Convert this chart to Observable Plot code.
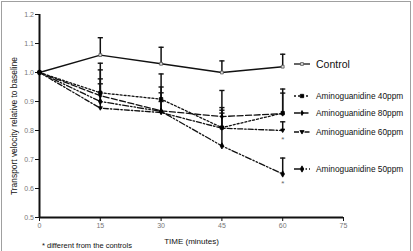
<!DOCTYPE html>
<html><head><meta charset="utf-8">
<script src="https://cdn.jsdelivr.net/npm/d3@7"></script>
<script src="https://cdn.jsdelivr.net/npm/@observablehq/plot@0.6"></script>
<style>
body{margin:0;background:#fff;font-family:"Liberation Sans",Arial,sans-serif;}
#wrap{position:relative;width:413px;height:251px;overflow:hidden;background:#fff;}
#frame{position:absolute;left:1px;top:1px;width:410px;height:250px;border:1px solid #a0a0a0;border-bottom:none;box-sizing:border-box;pointer-events:none;}
#chart{position:absolute;left:0;top:0;}
.leg{position:absolute;left:292px;display:flex;align-items:center;white-space:nowrap;color:#111;}
.leg svg{margin-right:4px;overflow:visible;}
#note{position:absolute;left:42px;top:241px;font-size:7.5px;color:#111;}
</style>
</head><body>
<div id="wrap"><div id="chart"></div><div id="legend"></div><div id="note">* different from the controls</div><div id="frame"></div></div>
<script>
const times = [0, 15, 30, 45, 60];
const seriesNames = ["Control", "Aminoguanidine 40ppm", "Aminoguanidine 80ppm", "Aminoguanidine 60ppm", "Aminoguanidine 50ppm"];
const control = [1.0, 1.06, 1.03, 1.0, 1.02];
const controlTop = [null, 1.12, 1.087, 1.04, 1.063];
const ag40 = [1.0, 0.93, 0.908, 0.81, 0.86];
const ag40Top = [null, 1.032, 0.995, 0.879, 0.943];
const ag80 = [1.0, 0.92, 0.868, 0.848, 0.858];
const ag80Top = [null, 1.009, 0.95, 0.87, 0.929];
const ag60 = [1.0, 0.877, 0.862, 0.808, 0.80];
const ag60Top = [null, 0.961, 0.9, 0.86, 0.83];
const ag50 = [1.0, 0.90, 0.866, 0.747, 0.65];
const ag50Top = [null, 0.978, 0.93, 0.938, 0.705];
const significant50 = [false, false, false, false, true];
const significant60 = [false, false, false, false, true];
const yTicks = [0.5, 0.6, 0.7, 0.8, 0.9, 1.0, 1.1, 1.2];
const xTicks = [0, 15, 30, 45, 60, 75];

const triDown = {draw(ctx, size){const s = Math.sqrt(size) * 0.62; ctx.moveTo(-s, -s * 0.7); ctx.lineTo(s, -s * 0.7); ctx.lineTo(0, s * 1.0); ctx.closePath();}};
const capSym = {draw(ctx){ctx.moveTo(-2.6, 0); ctx.lineTo(2.6, 0);}};

const defs = [
  {name: seriesNames[0], vals: control, tops: controlTop, dash: null, symbol: "square", fill: "#ddd", r: 1.6, sig: null},
  {name: seriesNames[1], vals: ag40, tops: ag40Top, dash: "2,2", symbol: "square", fill: "#000", r: 1.9, sig: null},
  {name: seriesNames[2], vals: ag80, tops: ag80Top, dash: "6,2.5", symbol: "diamond", fill: "#000", r: 1.5, sig: null},
  {name: seriesNames[3], vals: ag60, tops: ag60Top, dash: "5,2,1.5,2", symbol: triDown, fill: "#000", r: 1.9, sig: significant60},
  {name: seriesNames[4], vals: ag50, tops: ag50Top, dash: "6,2,1.5,2,1.5,2", symbol: "diamond", fill: "#000", r: 1.9, sig: significant50}
];

const marks = [];
for (const d of defs) {
  const rows = times.map((t, i) => ({time: t, value: d.vals[i], top: d.tops[i]}));
  const errRows = rows.filter(r => r.top != null);
  marks.push(Plot.ruleX(errRows, {x: "time", y1: "value", y2: "top", stroke: "#111", strokeWidth: 1.5}));
  marks.push(Plot.dot(errRows, {x: "time", y: "top", symbol: capSym, stroke: "#111", fill: "none", strokeWidth: 1.4}));
}
for (const d of defs) {
  const rows = times.map((t, i) => ({time: t, value: d.vals[i], sig: d.sig ? d.sig[i] : false}));
  marks.push(Plot.line(rows, {x: "time", y: "value", stroke: "#111", strokeWidth: d.dash ? 1.3 : 1.4, strokeDasharray: d.dash}));
  marks.push(Plot.dot(rows, {x: "time", y: "value", symbol: d.symbol, r: d.r, fill: d.fill, stroke: d.fill === "#000" ? "#000" : "#555", strokeWidth: 0.8}));
  marks.push(Plot.text(rows.filter(r => r.sig), {x: "time", y: "value", text: () => "*", dy: 9, fontSize: 8, fill: "#666"}));
}

const chart = Plot.plot({
  width: 413, height: 251,
  marginLeft: 39, marginRight: 70, marginTop: 14, marginBottom: 34,
  style: {fontFamily: "'Liberation Sans', Arial, sans-serif", background: "transparent", overflow: "visible"},
  x: {domain: [0, 75]},
  y: {domain: [0.5, 1.2]},
  marks: [
    Plot.axisY({ticks: yTicks, tickFormat: d => d.toFixed(1), tickSize: 4, stroke: "#111", fill: "#777", fontSize: 7, tickPadding: 1.5,
      label: "Transport velocity relative to baseline", labelAnchor: "center", labelArrow: "none", labelOffset: 28}),
    Plot.axisX({ticks: xTicks, tickSize: 4, stroke: "#111", fill: "#777", fontSize: 7, tickPadding: 1.5,
      label: "TIME (minutes)", labelAnchor: "center", labelArrow: "none", labelOffset: 26}),
    Plot.ruleX([0], {stroke: "#111", strokeWidth: 2}),
    Plot.ruleY([0.5], {stroke: "#111", strokeWidth: 2}),
    ...marks
  ]
});
chart.querySelectorAll("g[aria-label='y-axis label'] text").forEach(t => { t.setAttribute("fill", "#111"); t.style.fontSize = "8.4px"; t.setAttribute("dx", "-10"); });
chart.querySelectorAll("g[aria-label='x-axis label'] text").forEach(t => { t.setAttribute("fill", "#111"); t.style.fontSize = "8px"; });
document.getElementById("chart").appendChild(chart);

// legend
const legendY = [64, 96, 113, 132, 169];
const legend = document.getElementById("legend");
defs.forEach((d, i) => {
  const div = document.createElement("div");
  div.className = "leg";
  div.style.top = (legendY[i] - 7) + "px";
  div.style.height = "14px";
  div.style.fontSize = i === 0 ? "10.5px" : "8.3px";
  const ns = "http://www.w3.org/2000/svg";
  const svg = document.createElementNS(ns, "svg");
  svg.setAttribute("width", 20); svg.setAttribute("height", 10);
  const line = document.createElementNS(ns, "line");
  line.setAttribute("x1", 2); line.setAttribute("x2", 18); line.setAttribute("y1", 5); line.setAttribute("y2", 5);
  line.setAttribute("stroke", "#111"); line.setAttribute("stroke-width", 1.3);
  if (d.dash) line.setAttribute("stroke-dasharray", d.dash);
  svg.appendChild(line);
  const p = document.createElementNS(ns, "path");
  const sym = d.symbol === "square" ? d3.symbolSquare : d.symbol === "diamond" ? d3.symbolDiamond : d.symbol;
  p.setAttribute("d", d3.symbol(sym, Math.PI * d.r * d.r)());
  p.setAttribute("transform", "translate(10,5)");
  p.setAttribute("fill", d.fill); p.setAttribute("stroke", d.fill === "#000" ? "#000" : "#555"); p.setAttribute("stroke-width", 0.8);
  svg.appendChild(p);
  div.appendChild(svg);
  const span = document.createElement("span");
  span.textContent = d.name;
  div.appendChild(span);
  legend.appendChild(div);
});
</script>
</body></html>
